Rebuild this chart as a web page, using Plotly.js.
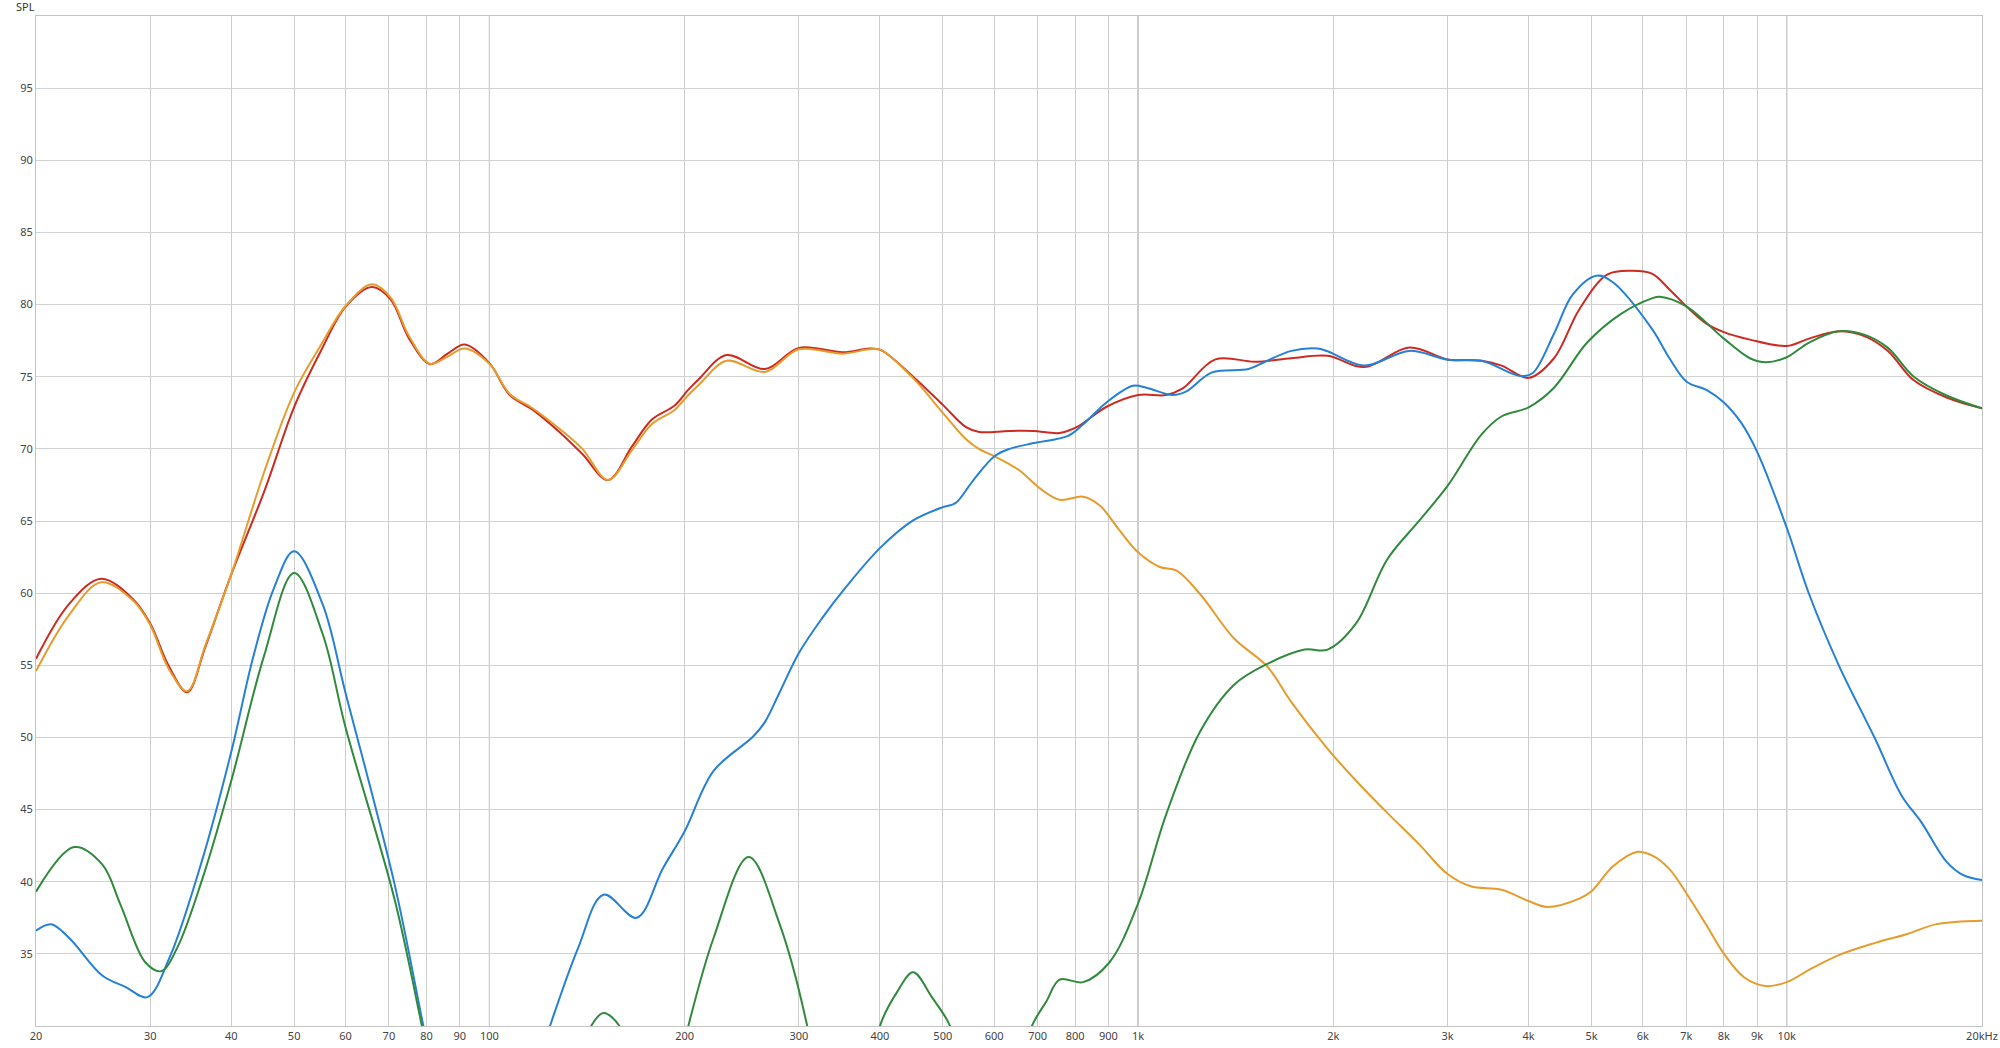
<!DOCTYPE html>
<html>
<head>
<meta charset="utf-8">
<script src="https://cdn.plot.ly/plotly-3.0.1.min.js"></script>
<style>html,body{margin:0;padding:0;background:#fff;}#chart{width:2000px;height:1048px;}</style>
</head>
<body>
<div id="chart"></div>
<script>
// ---- Data (frequency in Hz, SPL in dB) ----
const freqRed = [20,22.5,25.2,28.2,30,32,34.2,36.5,40,45,50,55,60,65.9,70.4,75.2,81,86.2,91.6,100,107.5,116.7,128.2,139.1,152.4,165.8,177.9,193,202.3,211,232,266,300,351,385,401,450,500,543,569,632,690,757,804,893,1000,1104,1170,1316,1515,1723,1960,2232,2620,3000,3385,3636,4000,4377,4790,5287,5754,6197,6595,7010,7530,8000,8774,10000,10825,12030,13200,14320,15700,17640,20000];
const splRed = [55.45,59.26,61.0,59.6,57.9,55.0,53.13,56.3,61.3,67.09,72.9,76.8,79.85,81.22,80.37,77.64,75.87,76.6,77.23,75.94,73.73,72.7,71.17,69.64,67.84,70.15,72.02,73.0,74.07,74.9,76.5,75.53,77.0,76.69,76.96,76.86,75.0,73.05,71.5,71.17,71.24,71.24,71.1,71.5,72.9,73.73,73.73,74.17,76.2,76.04,76.28,76.45,75.67,77.03,76.2,76.1,75.77,74.92,76.28,79.68,82.07,82.34,82.14,81.05,79.86,78.66,78.09,77.57,77.13,77.64,78.15,77.8,76.79,74.75,73.56,72.81];

const freqOrange = [20,22.5,25.2,28.2,30,32,34.2,36.5,40,45,50,55,60,65.9,70.4,75.2,81,86.2,91.6,100,107.5,116.7,128.2,139.1,152.4,165.8,177.9,193,202.3,211,232,266,300,351,385,401,450,500,543,569,600,632,659,706,757,823,873,936,1000,1080,1145,1246,1405,1583,1723,1960,2168,2420,2715,3000,3257,3636,4000,4270,4790,5000,5389,5870,6197,6595,7010,7530,8000,8594,9284,10000,10825,12030,13690,15350,17030,20000];
const splOrange = [54.6,58.5,60.75,59.5,57.8,54.8,53.2,56.4,61.3,68.45,73.9,77.2,79.9,81.4,80.5,77.8,75.9,76.4,76.96,75.9,73.8,72.8,71.4,70.0,67.84,69.9,71.7,72.7,73.7,74.5,76.1,75.33,76.9,76.6,76.9,76.86,74.9,72.5,70.66,69.98,69.5,68.96,68.45,67.26,66.47,66.68,66.07,64.36,62.83,61.81,61.57,59.94,56.87,54.9,52.45,49.21,47.0,44.79,42.57,40.53,39.68,39.44,38.66,38.25,38.83,39.34,41.04,42.06,41.82,40.87,39.17,36.95,35.01,33.38,32.77,33.04,33.89,34.91,35.76,36.38,37.06,37.3];

const freqBlue = [20,21.1,22.5,25.3,27.5,29.7,32.1,36.1,40,43.2,46.5,50,55.3,60,71.4,79.2,80.5,null,121,124,137,150,168.6,185,200,221.6,255,266,280,300,325,355,401,450,500,523,556,600,632,690,780,823,893,982,1030,1130,1185,1300,1480,1570,1723,1890,1960,2232,2620,3000,3385,3882,4060,4377,4680,5088,5389,6197,6595,7010,7530,8000,8495,9000,10000,10825,12030,13690,15030,16140,17640,18710,20000];
const splBlue = [36.6,37.05,36.1,33.5,32.7,32.0,34.7,41.55,49.0,55.5,60.3,62.9,59.25,53.1,39.85,29.9,28.5,null,28.5,30,35.4,39.1,37.5,40.9,43.5,47.68,50.06,51.08,53.1,55.85,58.2,60.45,63.17,65.04,65.96,66.24,67.77,69.47,69.98,70.4,70.9,71.7,73.2,74.37,74.24,73.73,73.96,75.3,75.53,76.04,76.79,76.96,76.76,75.77,76.79,76.18,76.1,75.05,75.26,77.98,80.7,82.0,81.56,78.32,76.28,74.65,74.07,73.22,71.85,69.81,64.53,59.94,55.0,49.89,45.98,44.1,41.38,40.46,40.12];

const freqGreen = [20,22.9,25.3,27.0,29.5,31.2,33.0,36.1,40,44.9,50,55.3,60,71.4,78.7,80,null,140,143.5,150,158.6,162,null,199,202.6,221.6,251,280,309,313,null,395,400,425,450,481,513,520,null,675,686,722,757,823,903,1000,1104,1246,1405,1583,1806,1960,2168,2420,2715,3000,3385,3636,4000,4377,4924,5546,6197,6370,7010,8000,8774,9284,10000,10825,12030,13200,14320,15700,17640,20000];
const splGreen = [39.3,42.4,41.2,38.4,34.4,33.8,35.4,40.2,47.0,55.6,61.4,57.2,50.7,38.8,30,28.5,null,28.5,30,30.9,30,28.5,null,28.5,30,36.1,41.72,37.1,30,28.5,null,28.5,30,32.35,33.72,32.0,30,28.5,null,28.5,30,31.7,33.21,33.04,34.4,38.49,44.62,50.4,53.64,55.1,56.09,56.09,57.9,62.32,65.04,67.43,71.0,72.26,72.88,74.24,77.37,79.34,80.43,80.54,79.86,77.64,76.28,76.0,76.35,77.37,78.15,77.9,77.0,75.0,73.7,72.81];

const xTickVals = [20,30,40,50,60,70,80,90,100,200,300,400,500,600,700,800,900,1000,2000,3000,4000,5000,6000,7000,8000,9000,10000,20000];
const xTickText = ['20','30','40','50','60','70','80','90','100','200','300','400','500','600','700','800','900','1k','2k','3k','4k','5k','6k','7k','8k','9k','10k','20kHz'];
const yTickVals = [35,40,45,50,55,60,65,70,75,80,85,90,95];
const decadeLines = [100,1000,10000];

// ---- Traces ----
function mk(x, y, color) {
  return {x: x, y: y, type: 'scatter', mode: 'lines', connectgaps: false,
          line: {color: color, width: 2, shape: 'spline', smoothing: 1},
          hoverinfo: 'skip', showlegend: false};
}
const traces = [
  mk(freqRed, splRed, '#cc2b22'),
  mk(freqOrange, splOrange, '#e69c2c'),
  mk(freqBlue, splBlue, '#2580d6'),
  mk(freqGreen, splGreen, '#2f8a3c')
];

const font = {family: '"Noto Sans", "Open Sans", sans-serif', size: 11, color: '#444'};

const layout = {
  width: 2000, height: 1048,
  margin: {l: 36, r: 18, t: 16, b: 22},
  paper_bgcolor: '#ffffff', plot_bgcolor: '#ffffff',
  font: font,
  xaxis: {
    type: 'log', range: [Math.log10(20), Math.log10(20000)],
    tickmode: 'array', tickvals: xTickVals, ticktext: xTickText,
    showgrid: true, gridcolor: '#cdcdcd', gridwidth: 1,
    showline: true, mirror: true, linecolor: '#c4c4c4', linewidth: 1,
    zeroline: false, ticks: '', tickfont: font, automargin: false
  },
  yaxis: {
    range: [30, 100], tickmode: 'array', tickvals: yTickVals,
    showgrid: true, gridcolor: '#d2d2d2', gridwidth: 1,
    showline: true, mirror: true, linecolor: '#c4c4c4', linewidth: 1,
    zeroline: false, ticks: '', tickfont: font, automargin: false
  },
  shapes: decadeLines.map(f => ({
    type: 'line', xref: 'x', yref: 'paper', x0: f, x1: f, y0: 0, y1: 1,
    line: {color: '#8a8a8a', width: 1}, layer: 'below'
  })),
  annotations: [{
    text: 'SPL', xref: 'paper', yref: 'paper',
    x: -11 / 1946, y: 1 + 9 / 1010, xanchor: 'center', yanchor: 'middle',
    showarrow: false, font: {family: font.family, size: 11, color: '#333'}
  }]
};

Plotly.newPlot('chart', traces, layout, {staticPlot: true, displayModeBar: false});
</script>
</body>
</html>
